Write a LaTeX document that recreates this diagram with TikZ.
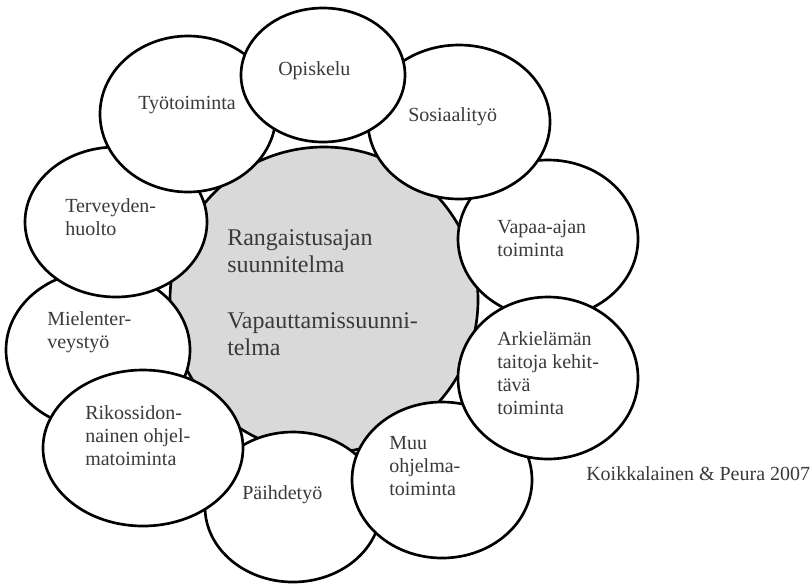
\documentclass[tikz,border=0pt]{standalone}
\usepackage{fontspec}
\setmainfont{Liberation Serif}
\usepackage{xcolor}
\usepackage{tikz}
\usetikzlibrary{shapes.geometric}
\definecolor{lightgray}{HTML}{D9D9D9}
\definecolor{textgray}{HTML}{3A3A3A}

\tikzset{
  bubble/.style={ellipse, draw, line width=2pt, fill=white, inner sep=0pt},
  % base of a text node is the baseline of its last line
  bubbletext/.style={anchor=base west, align=left, inner sep=0pt, text=textgray,
                     font=\fontsize{15}{17.25}\selectfont},
  plantext/.style={bubbletext, font=\fontsize{18}{20.25}\selectfont},
}

\begin{document}
\begin{tikzpicture}[x=0.75pt, y=-0.75pt]
    \useasboundingbox (0,0) rectangle (812,583);
    % central plan
    \node[bubble, fill=lightgray, minimum width=231pt, minimum height=229.5pt] (plan) at (324,300) {};
    % surrounding services, drawn from back to front
    \node[bubble, minimum width=135pt, minimum height=118.5pt] (vapaa) at (548,239) {};
    \node[bubble, minimum width=136.5pt, minimum height=115.5pt] (sosiaali) at (459,122) {};
    \node[bubble, minimum width=138pt, minimum height=118.5pt] (mielenterveys) at (98,350) {};
    \node[bubble, minimum width=136.5pt, minimum height=112.5pt] (terveys) at (116,222) {};
    \node[bubble, minimum width=132pt, minimum height=117pt] (tyo) at (188,114) {};
    \node[bubble, minimum width=123pt, minimum height=100.5pt] (opiskelu) at (323,75) {};
    \node[bubble, minimum width=132pt, minimum height=112.5pt] (paihde) at (293,507) {};
    \node[bubble, minimum width=135pt, minimum height=117pt] (muu) at (442,480) {};
    \node[bubble, minimum width=135pt, minimum height=121.5pt] (arki) at (548,378) {};
    \node[bubble, minimum width=150pt, minimum height=117pt] (rikos) at (143,448) {};

    % texts
    \node[plantext] (plantxt) at (227,355) {Rangaistusajan\\suunnitelma\\[21.75pt]Vapauttamissuunni-\\telma};
    \node[bubbletext] (opiskelutxt) at (278,75) {Opiskelu};
    \node[bubbletext] (tyotxt) at (138,109) {Työtoiminta};
    \node[bubbletext] (sosiaalitxt) at (408,121) {Sosiaalityö};
    \node[bubbletext] (vapaatxt) at (497,256) {Vapaa-ajan\\toiminta};
    \node[bubbletext] (arkitxt) at (497,414) {Arkielämän\\taitoja kehit-\\tävä\\toiminta};
    \node[bubbletext] (muutxt) at (389,495) {Muu\\ohjelma-\\toiminta};
    \node[bubbletext] (paihdetxt) at (242,499) {Päihdetyö};
    \node[bubbletext] (rikostxt) at (85,465) {Rikossidon-\\nainen ohjel-\\matoiminta};
    \node[bubbletext] (mielenterveystxt) at (47,348) {Mielenter-\\veystyö};
    \node[bubbletext] (terveystxt) at (65,235) {Terveyden-\\huolto};
    \node[bubbletext] (source) at (586,480) {Koikkalainen \& Peura 2007};
\end{tikzpicture}
\end{document}
